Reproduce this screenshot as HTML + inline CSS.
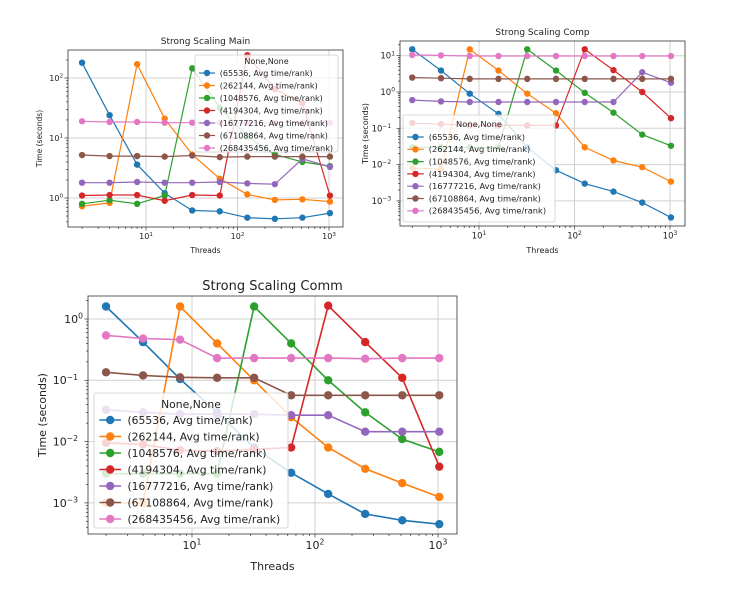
<!DOCTYPE html>
<html><head><meta charset="utf-8"><style>
body{margin:0;background:#fff;width:731px;height:593px;overflow:hidden}
svg{display:block;font-family:"DejaVu Sans","Liberation Sans",sans-serif}
</style></head><body>
<svg id="s" width="731" height="593"></svg>
<script>
const threads=[2,4,8,16,32,64,128,256,512,1024];
const seriesNames=["(65536, Avg time/rank)","(262144, Avg time/rank)","(1048576, Avg time/rank)","(4194304, Avg time/rank)","(16777216, Avg time/rank)","(67108864, Avg time/rank)","(268435456, Avg time/rank)"];
const colors=["#1f77b4","#ff7f0e","#2ca02c","#d62728","#9467bd","#8c564b","#e377c2"];
const mainData=[
[180,24,3.6,1.2,0.62,0.6,0.47,0.45,0.47,0.56],
[0.73,0.83,170,21,5.3,2.1,1.15,0.93,0.95,0.87],
[0.8,0.92,0.8,1.1,145,32,10.5,5.3,4,3.4],
[1.1,1.12,1.12,0.9,1.12,1.1,240,65,38,1.1],
[1.8,1.8,1.85,1.8,1.8,1.85,1.75,1.7,4.5,3.3],
[5.2,5,5,4.9,5.1,4.8,4.9,4.9,4.9,4.9],
[19,18.5,18.5,18,18,18,18,18,18,18]];
const compData=[
[15,3.9,0.9,0.25,0.03,0.007,0.003,0.0018,0.0009,0.00035],
[0.008,0.0075,15,3.9,0.9,0.26,0.03,0.013,0.0085,0.0034],
[0.03,0.03,0.03,0.03,15,3.9,0.95,0.27,0.067,0.033],
[0.14,0.13,0.12,0.12,0.12,0.12,15,4,1,0.19],
[0.6,0.55,0.53,0.53,0.53,0.53,0.53,0.53,3.5,1.8],
[2.5,2.4,2.3,2.3,2.3,2.3,2.3,2.3,2.3,2.3],
[10.5,10.2,9.8,9.8,9.8,9.8,9.8,9.8,9.8,9.8]];
const commData=[
[1.6,0.42,0.105,0.03,0.008,0.0031,0.0014,0.00066,0.00052,0.00045],
[0.001,0.001,1.6,0.4,0.1,0.025,0.008,0.0036,0.0021,0.00125],
[0.003,0.003,0.003,0.003,1.6,0.4,0.1,0.03,0.011,0.0068],
[0.0095,0.009,0.0072,0.007,0.0075,0.008,1.65,0.42,0.11,0.0039],
[0.033,0.03,0.028,0.028,0.028,0.027,0.027,0.0145,0.0145,0.0145],
[0.135,0.12,0.112,0.11,0.11,0.057,0.057,0.057,0.057,0.057],
[0.54,0.48,0.46,0.23,0.23,0.23,0.23,0.225,0.23,0.23]];
const xTickExps=[1,2,3];
const mainYExps=[0,1,2];
const compYExps=[-3,-2,-1,0,1];
const commYExps=[-3,-2,-1,0];

const NS="http://www.w3.org/2000/svg";
const svg=document.getElementById('s');
function mk(tag,attrs,parent){const e=document.createElementNS(NS,tag);for(const k in attrs)e.setAttribute(k,attrs[k]);(parent||svg).appendChild(e);return e;}

function chart(c){
  const g=mk('g',{});
  
  
  const X=v=>c.x10+(Math.log10(v)-1)*c.xd;
  const Y=v=>c.y1-Math.log10(v)*c.yd;
  c.yExps.forEach(e=>{const l=mk('line',{x1:c.L,x2:c.R,y1:Y(Math.pow(10,e)),y2:Y(Math.pow(10,e)),stroke:'#d0d0d0','stroke-width':1},g);});
  xTickExps.forEach(e=>{const l=mk('line',{y1:c.T,y2:c.B,x1:X(Math.pow(10,e)),x2:X(Math.pow(10,e)),stroke:'#d0d0d0','stroke-width':1},g);});
  c.data.forEach((arr,i)=>{
    const sg=mk('g',{},g);
    
    
    const pts=arr.map((v,j)=>X(threads[j]).toFixed(1)+','+Y(v).toFixed(1)).join(' ');
    mk('polyline',{points:pts,fill:'none',stroke:colors[i],'stroke-width':c.lw},sg);
    arr.forEach((v,j)=>{const p=mk('circle',{cx:X(threads[j]),cy:Y(v),r:c.mr,fill:colors[i]},sg);});
  });
  const fr=mk('rect',{x:c.L,y:c.T,width:c.R-c.L,height:c.B-c.T,fill:'none',stroke:'#333','stroke-width':0.8},g);
  
  for(let e=0;e<=3;e++)for(let m=1;m<10;m++){const v=m*Math.pow(10,e);const x=X(v);if(x<c.L||x>c.R)continue;mk('line',{x1:x,x2:x,y1:c.B,y2:c.B+(m==1?3.5:2),stroke:'#333','stroke-width':0.7},g);}
  xTickExps.forEach(e=>{const t=mk('text',{x:X(Math.pow(10,e)),y:c.B+c.fs+4,'font-size':c.fs,'text-anchor':'middle',fill:'#222'},g);t.textContent='10';const s=mk('tspan',{dy:-c.fs*0.4,'font-size':c.fs*0.7},t);s.textContent=String(e);});
  for(let e=-5;e<=3;e++)for(let m=1;m<10;m++){const v=m*Math.pow(10,e);const y=Y(v);if(y<c.T||y>c.B)continue;mk('line',{x1:c.L,x2:c.L-(m==1?3.5:2),y1:y,y2:y,stroke:'#333','stroke-width':0.7},g);}
  c.yExps.forEach(e=>{const t=mk('text',{x:c.L-5-(e<0?c.fs*0.45:0),y:Y(Math.pow(10,e))+c.fs*0.35,'font-size':c.fs,'text-anchor':'end',fill:'#222'},g);t.textContent='10';const s=mk('tspan',{dy:-c.fs*0.4,'font-size':c.fs*0.7},t);s.textContent=e<0?'\u2212'+(-e):String(e);});
  let t=mk('text',{x:(c.L+c.R)/2,y:c.T-6,'font-size':c.tfs,'text-anchor':'middle',fill:'#222'},g);t.textContent=c.title;
  t=mk('text',{x:(c.L+c.R)/2,y:c.xly,'font-size':c.lfs,'text-anchor':'middle',fill:'#222'},g);t.textContent='Threads';
  t=mk('text',{x:0,y:0,'font-size':c.lfs,'text-anchor':'middle',fill:'#222',transform:`translate(${c.ylx},${(c.T+c.B)/2}) rotate(-90)`},g);t.textContent='Time (seconds)';
  const lg=mk('g',{},g);
  const lb=c.leg;
  mk('rect',{x:lb.x,y:lb.y,width:lb.w,height:lb.h,rx:2,fill:'#fff','fill-opacity':0.8,stroke:'#ccc','stroke-width':0.8},lg);
  t=mk('text',{x:lb.x+lb.w/2,y:lb.ty+lb.fs*0.35,'font-size':lb.fs,'text-anchor':'middle',fill:'#222'},lg);t.textContent='None,None';
  seriesNames.forEach((n,i)=>{const y=lb.r0+i*lb.sp;const eg=mk('g',{},lg);
    mk('line',{x1:lb.x+lb.fs*0.5,x2:lb.x+lb.fs*2.5,y1:y,y2:y,stroke:colors[i],'stroke-width':c.lw},eg);
    mk('circle',{cx:lb.x+lb.fs*1.5,cy:y,r:c.mr,fill:colors[i]},eg);
    const tt=mk('text',{x:lb.x+lb.fs*3.1,y:y+lb.fs*0.35,'font-size':lb.fs,fill:'#222'},eg);tt.textContent=n;});
}
chart({name:'main-chart',title:'Strong Scaling Main',data:mainData,yExps:mainYExps,L:68,R:343,T:50,B:227,x10:146,xd:91.5,y1:198,yd:60,fs:8,tfs:9,lfs:7.5,lw:1.2,mr:3.2,xly:253,ylx:42,
 leg:{x:195,y:55,w:143,h:97,ty:61,r0:73,sp:12.5,fs:8}});
chart({name:'comp-chart',title:'Strong Scaling Comp',data:compData,yExps:compYExps,L:400,R:685,T:41,B:226,x10:479,xd:95.5,y1:92,yd:36.3,fs:8.5,tfs:9,lfs:8,lw:1.2,mr:3.2,xly:253,ylx:368,
 leg:{x:403,y:115,w:152,h:107,ty:124,r0:137,sp:12.3,fs:8.3}});
chart({name:'comm-chart',title:'Strong Scaling Comm',data:commData,yExps:commYExps,L:88,R:457,T:296,B:534,x10:192,xd:123,y1:319,yd:61.3,fs:11,tfs:13,lfs:11,lw:1.6,mr:4.2,xly:570,ylx:46,
 leg:{x:94,y:393,w:194,h:135,ty:404,r0:420,sp:16.5,fs:10.8}});
</script>
</body></html>
